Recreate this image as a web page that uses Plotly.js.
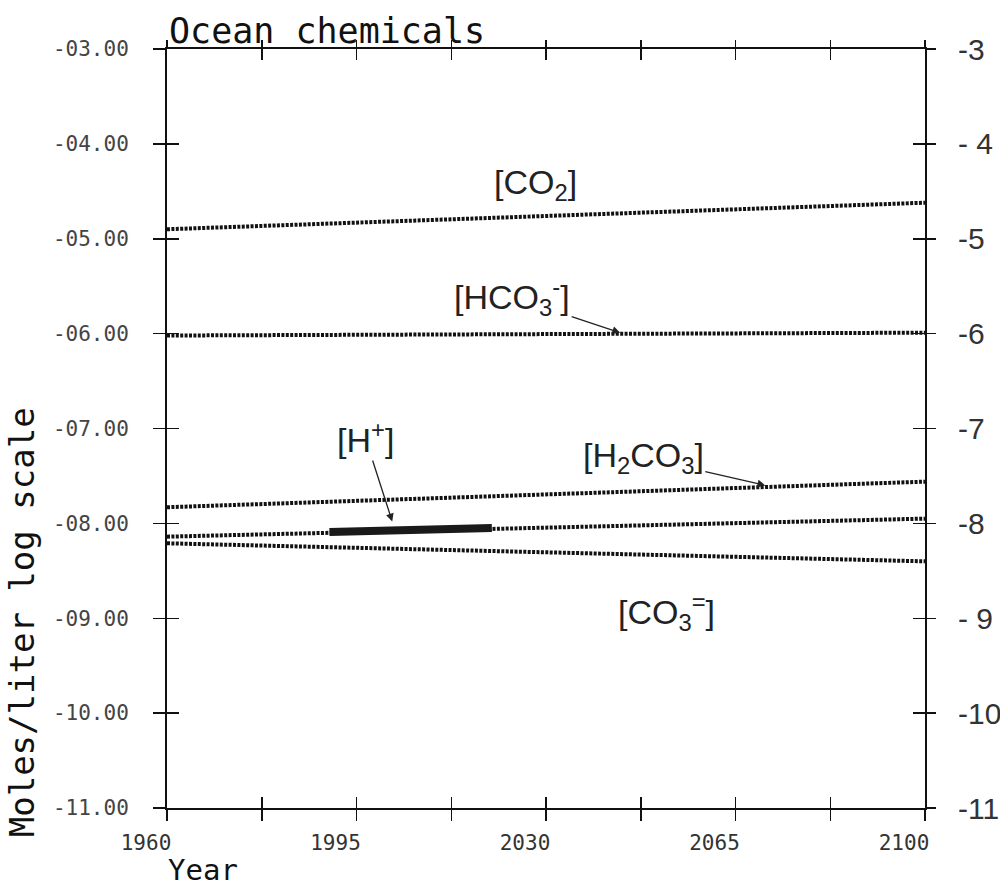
<!DOCTYPE html>
<html>
<head>
<meta charset="utf-8">
<script src="https://cdn.plot.ly/plotly-3.0.1.min.js"></script>
<style>
  html, body { margin: 0; padding: 0; background: #ffffff; }
  #chart { width: 1000px; height: 888px; }
</style>
</head>
<body>
<div id="chart"></div>
<script>
// ---- data ----
const years = [1960, 2100];
const co2   = [-4.90, -4.62];
const hco3  = [-6.02, -5.99];
const h2co3 = [-7.83, -7.56];
const hplus = [-8.14, -7.95];
const co3   = [-8.21, -8.40];

// measured segment of [H+]
const hMeasYears = [1990, 2020];
const hMeasVals  = [-8.09, -8.05];

// axis ticks
const xTickVals  = [1960, 1977.5, 1995, 2012.5, 2030, 2047.5, 2065, 2082.5, 2100];
const xTickText  = ['1960', '', '1995', '', '2030', '', '2065', '', '2100'];
const yTickVals  = [-3, -4, -5, -6, -7, -8, -9, -10, -11];
const yTickLeft  = ['-03.00', '-04.00', '-05.00', '-06.00', '-07.00', '-08.00', '-09.00', '-10.00', '-11.00'];
const yTickRight = ['-3', '- 4', '-5', '-6', '-7', '-8', '- 9', '-10', '-11'];

// hand-written labels
const labelText  = ['[CO<sub>2</sub>]', '[HCO<sub>3</sub><sup>-</sup>]', '[H<sup>+</sup>]', '[H<sub>2</sub>CO<sub>3</sub>]', '[CO<sub>3</sub><sup>=</sup>]'];
const labelX     = [2028, 2043.7, 2001.6, 2070.5, 2052.3];
const labelY     = [-4.43, -5.99, -7.98, -7.60, -8.93];
const labelArrow = [false, true, true, true, false];
const labelAX    = [0, -108, -27, -122, 0];
const labelAY    = [0, -36, -84, -28, 0];

// ---- styling ----
const MONO = '"DejaVu Sans Mono", "Liberation Mono", monospace';
const HAND = '"Liberation Sans", "DejaVu Sans", sans-serif';
const INK = '#111111';
const dotLine = { color: INK, width: 4, dash: '3px,1.4px' };

const series = [
  { name: '[CO2]', y: co2 },
  { name: '[HCO3-]', y: hco3 },
  { name: '[H2CO3]', y: h2co3 },
  { name: '[H+]', y: hplus },
  { name: '[CO3=]', y: co3 }
];

const traces = series.map(s => ({
  type: 'scatter', mode: 'lines', x: years, y: s.y, name: s.name,
  line: dotLine, xaxis: 'x', yaxis: 'y'
}));
traces.push({
  type: 'scatter', mode: 'lines', x: hMeasYears, y: hMeasVals, name: '[H+] measured',
  line: { color: '#1a1a1a', width: 8 }, xaxis: 'x', yaxis: 'y'
});
// invisible carriers so the extra tick axes get drawn
[['x2', 'y'], ['x3', 'y'], ['x4', 'y'], ['x', 'y2'], ['x', 'y3'], ['x', 'y4']].forEach(p => {
  traces.push({
    type: 'scatter', mode: 'lines', x: years, y: co2, xaxis: p[0], yaxis: p[1],
    line: { width: 0, color: 'rgba(0,0,0,0)' }, opacity: 0, hoverinfo: 'skip', showlegend: false
  });
});

const xRange = [1960, 2100];
const yRange = [-11, -3];

const baseX = {
  range: xRange, tickmode: 'array', tickvals: xTickVals, showgrid: false, zeroline: false,
  tickcolor: INK, tickwidth: 1.5, fixedrange: true
};
const baseY = {
  range: yRange, tickmode: 'array', tickvals: yTickVals, showgrid: false, zeroline: false,
  tickcolor: INK, tickwidth: 1.5, fixedrange: true
};

const annotations = labelText.map((t, i) => ({
  x: labelX[i], y: labelY[i], xref: 'x', yref: 'y', text: t,
  showarrow: labelArrow[i], ax: labelAX[i], ay: labelAY[i],
  arrowhead: 2, arrowsize: 1.2, arrowwidth: 1.3, arrowcolor: '#222',
  font: { family: HAND, size: 34, color: '#222' }
}));
annotations.push({
  xref: 'paper', yref: 'paper', x: -0.191, y: 0.245, xanchor: 'center', yanchor: 'middle',
  text: 'Moles/liter log scale', textangle: -90, showarrow: false,
  font: { family: MONO, size: 34, color: INK }
});
annotations.push({
  xref: 'paper', yref: 'paper', x: 0, y: -0.1054, xanchor: 'left', yanchor: 'bottom',
  text: 'Year', showarrow: false, borderpad: 0,
  font: { family: MONO, size: 29, color: INK }
});
annotations.push({
  xref: 'paper', yref: 'paper', x: 0, y: 1.0, xanchor: 'left', yanchor: 'bottom',
  text: 'Ocean chemicals', showarrow: false, yshift: -4,
  font: { family: MONO, size: 35, color: INK }
});

const layout = {
  width: 1000, height: 888,
  margin: { l: 167, r: 75, t: 49, b: 80 },
  paper_bgcolor: '#ffffff', plot_bgcolor: '#ffffff',
  showlegend: false,
  xaxis: Object.assign({}, baseX, {
    side: 'bottom', anchor: 'y', showline: true, linecolor: INK, linewidth: 2,
    ticks: 'outside', ticklen: 11, ticktext: xTickText, ticklabelshift: -21, ticklabelstandoff: 4,
    tickfont: { family: MONO, size: 21, color: '#333' }
  }),
  xaxis2: Object.assign({}, baseX, {
    overlaying: 'x', side: 'bottom', anchor: 'y', showline: false,
    ticks: 'inside', ticklen: 11, showticklabels: false
  }),
  xaxis3: Object.assign({}, baseX, {
    overlaying: 'x', side: 'top', anchor: 'y', showline: true, linecolor: INK, linewidth: 2,
    ticks: 'inside', ticklen: 11, showticklabels: false
  }),
  xaxis4: Object.assign({}, baseX, {
    overlaying: 'x', side: 'top', anchor: 'y', showline: false,
    ticks: 'outside', ticklen: 8, showticklabels: false
  }),
  yaxis: Object.assign({}, baseY, {
    side: 'left', anchor: 'x', showline: true, linecolor: INK, linewidth: 2,
    ticks: 'outside', ticklen: 12, ticktext: yTickLeft, ticklabelstandoff: 20,
    tickfont: { family: MONO, size: 21, color: '#444' }
  }),
  yaxis2: Object.assign({}, baseY, {
    overlaying: 'y', side: 'left', anchor: 'x', showline: false,
    ticks: 'inside', ticklen: 12, showticklabels: false
  }),
  yaxis3: Object.assign({}, baseY, {
    overlaying: 'y', side: 'right', anchor: 'x', showline: true, linecolor: INK, linewidth: 2,
    ticks: 'outside', ticklen: 9, ticktext: yTickRight, ticklabelstandoff: 16,
    tickfont: { family: HAND, size: 30, color: '#333' }
  }),
  yaxis4: Object.assign({}, baseY, {
    overlaying: 'y', side: 'right', anchor: 'x', showline: false,
    ticks: 'inside', ticklen: 12, showticklabels: false
  }),
  annotations: annotations
};

Plotly.newPlot('chart', traces, layout, { displayModeBar: false, staticPlot: true });
</script>
</body>
</html>
